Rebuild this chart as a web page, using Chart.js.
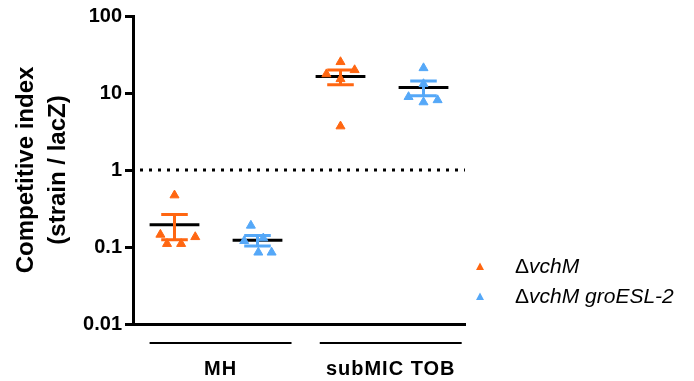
<!DOCTYPE html>
<html>
<head>
<meta charset="utf-8">
<script src="https://cdn.jsdelivr.net/npm/chart.js@4.4.1/dist/chart.umd.min.js"></script>
<style>
  html, body { margin: 0; padding: 0; background: #fff; }
  #wrap { width: 694px; height: 381px; }
</style>
</head>
<body>
<div id="wrap"><canvas id="grafico"></canvas></div>
<script>
// categorias e séries
var categories = ['MH', 'subMIC TOB'];
var seriesNames = ['\u0394vchM', '\u0394vchM groESL-2'];

// valores (índice competitivo)
var vchM_MH = [0.47, 0.11, 0.11, 0.135, 0.145];
var vchM_TOB = [25.3, 19.9, 17.6, 15.2, 3.7];
var groESL_MH = [0.19, 0.12, 0.13, 0.085, 0.085];
var groESL_TOB = [21.1, 13.1, 8.9, 7.6, 8.1];

// deslocamento horizontal de cada ponto (dispersão)
var jitter_vchM_MH = [0, -0.09, 0.08, 0.25, -0.17];
var jitter_vchM_TOB = [0, 0.17, -0.17, 0, 0];
var jitter_groESL_MH = [-0.08, -0.16, 0.07, 0.01, 0.17];
var jitter_groESL_TOB = [0, 0, -0.18, 0, 0.17];

var yTicks = [0.01, 0.1, 1, 10, 100];

var FONT = "'Liberation Sans', Arial, sans-serif";
var ORANGE = '#ff6611';
var BLUE = '#55a8f8';

// grupos: posição central no eixo x
var groups = [
    { vals: vchM_MH, jit: jitter_vchM_MH, c: 0.5, color: ORANGE },
    { vals: groESL_MH, jit: jitter_groESL_MH, c: 1.5, color: BLUE },
    { vals: vchM_TOB, jit: jitter_vchM_TOB, c: 2.5, color: ORANGE },
    { vals: groESL_TOB, jit: jitter_groESL_TOB, c: 3.5, color: BLUE }
];
var catSpans = [[0.2, 1.91], [2.25, 3.96]];

function pts(g) {
    return g.vals.map(function (v, i) { return { x: g.c + g.jit[i], y: v }; });
}

var data = {
    datasets: [{
        label: seriesNames[0],
        data: pts(groups[0]).concat(pts(groups[2])),
        backgroundColor: ORANGE,
        borderColor: ORANGE,
        pointStyle: 'triangle',
        pointRadius: 5.2,
        pointBorderWidth: 1
    }, {
        label: seriesNames[1],
        data: pts(groups[1]).concat(pts(groups[3])),
        backgroundColor: BLUE,
        borderColor: BLUE,
        pointStyle: 'triangle',
        pointRadius: 5.2,
        pointBorderWidth: 1
    }]
};

// média, EPM, linha pontilhada, rótulos e legenda
var overlay = {
    id: 'overlay',
    beforeDatasetsDraw: function (chart) {
        var ctx = chart.ctx, area = chart.chartArea;
        var x = chart.scales.x, y = chart.scales.y;
        ctx.save();
        ctx.strokeStyle = '#000';
        ctx.lineWidth = 3;
        ctx.setLineDash([3, 6]);
        var y1 = y.getPixelForValue(1);
        ctx.beginPath();
        ctx.moveTo(area.left + 7, y1);
        ctx.lineTo(area.right, y1);
        ctx.stroke();
        ctx.setLineDash([]);

        groups.forEach(function (g) {
            var n = g.vals.length;
            var mean = g.vals.reduce(function (a, b) { return a + b; }, 0) / n;
            var sd = Math.sqrt(g.vals.reduce(function (a, b) { return a + (b - mean) * (b - mean); }, 0) / (n - 1));
            var sem = sd / Math.sqrt(n);
            var ym = y.getPixelForValue(mean);
            ctx.strokeStyle = '#000';
            ctx.lineWidth = 3;
            ctx.beginPath();
            ctx.moveTo(x.getPixelForValue(g.c - 0.3), ym);
            ctx.lineTo(x.getPixelForValue(g.c + 0.3), ym);
            ctx.stroke();
            var yt = y.getPixelForValue(mean + sem), yb = y.getPixelForValue(mean - sem);
            var xl = x.getPixelForValue(g.c - 0.16), xr = x.getPixelForValue(g.c + 0.16), xc = x.getPixelForValue(g.c);
            ctx.strokeStyle = g.color;
            ctx.beginPath();
            ctx.moveTo(xc, yt); ctx.lineTo(xc, yb);
            ctx.moveTo(xl, yt); ctx.lineTo(xr, yt);
            ctx.moveTo(xl, yb); ctx.lineTo(xr, yb);
            ctx.stroke();
        });
        ctx.restore();
    },
    afterDraw: function (chart) {
        var ctx = chart.ctx, area = chart.chartArea;
        var x = chart.scales.x;
        ctx.save();
        // linhas e rótulos das categorias
        ctx.strokeStyle = '#000';
        ctx.lineWidth = 2;
        ctx.fillStyle = '#000';
        ctx.font = 'bold 20px ' + FONT;
        ctx.textAlign = 'center';
        ctx.textBaseline = 'alphabetic';
        if ('letterSpacing' in ctx) ctx.letterSpacing = '1px';
        catSpans.forEach(function (s, i) {
            var a = x.getPixelForValue(s[0]), b = x.getPixelForValue(s[1]);
            ctx.beginPath();
            ctx.moveTo(a, area.bottom + 19);
            ctx.lineTo(b, area.bottom + 19);
            ctx.stroke();
            ctx.fillText(categories[i], (a + b) / 2, area.bottom + 51);
        });
        if ('letterSpacing' in ctx) ctx.letterSpacing = '0px';

        // legenda
        var colors = [ORANGE, BLUE];
        seriesNames.forEach(function (name, i) {
            var ly = 267 + i * 30;
            var lx = area.right + 15;
            ctx.fillStyle = colors[i];
            ctx.beginPath();
            ctx.moveTo(lx, ly - 4.5);
            ctx.lineTo(lx + 4, ly + 3);
            ctx.lineTo(lx - 4, ly + 3);
            ctx.closePath();
            ctx.fill();
            ctx.fillStyle = '#000';
            ctx.textAlign = 'left';
            ctx.textBaseline = 'middle';
            ctx.font = '21px ' + FONT;
            var tx = lx + 35;
            ctx.fillText(name.charAt(0), tx, ly);
            tx += ctx.measureText(name.charAt(0)).width;
            ctx.font = 'italic 21px ' + FONT;
            ctx.fillText(name.slice(1), tx, ly);
        });
        ctx.restore();
    }
};

var options = {
    responsive: true,
    maintainAspectRatio: false,
    animation: false,
    layout: { padding: { left: 0, right: 229, top: 16, bottom: 0 } },
    plugins: {
        legend: { display: false },
        tooltip: { enabled: false }
    },
    scales: {
        x: {
            type: 'linear',
            min: 0,
            max: 4,
            grid: { display: false },
            ticks: { display: false },
            border: { display: true, color: '#000', width: 3 },
            afterFit: function (s) { s.height = 57; }
        },
        y: {
            type: 'logarithmic',
            min: 0.01,
            max: 100,
            afterBuildTicks: function (s) {
                s.ticks = yTicks.map(function (v) { return { value: v }; });
            },
            afterFit: function (s) { s.width = 133; },
            grid: { drawOnChartArea: false, drawTicks: true, tickLength: 8, tickWidth: 3, tickColor: '#000' },
            border: { display: true, color: '#000', width: 3 },
            ticks: {
                color: '#000',
                padding: 3,
                font: { family: FONT, size: 20, weight: 'bold' },
                callback: function (v) { return String(v); }
            },
            title: {
                display: true,
                text: ['Competitive index', '(strain / lacZ)'],
                color: '#000',
                font: { family: FONT, size: 24, weight: 'bold', lineHeight: 1.33 },
                padding: { top: 10, bottom: 0 }
            }
        }
    }
};

var ctx = document.querySelector('#grafico');
var chart = new Chart(ctx, {
    type: 'scatter',
    data: data,
    options: options,
    plugins: [overlay]
});
</script>
</body>
</html>
